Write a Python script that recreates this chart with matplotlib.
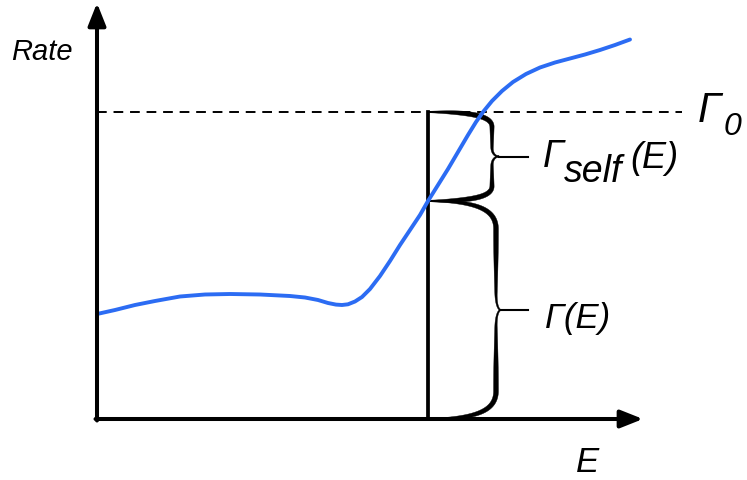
import numpy as np
import matplotlib
matplotlib.use("Agg")
import matplotlib.pyplot as plt

# schematic drawn in pixel space (y grows downwards)
curve_x = [97, 115, 135, 155, 180, 205, 230, 260, 290, 305, 318, 328, 336,
           342, 348, 355, 362, 370, 380, 390, 400, 410, 420, 428, 438, 448,
           458, 468, 476, 483, 492, 502, 513, 526, 540, 555, 570, 585, 600,
           615, 630]
curve_y = [315, 311, 306, 302, 297.5, 295.5, 295, 295.5, 297, 298.5, 301, 304,
           305.6, 306, 305.3, 302.5, 298, 290, 277, 262, 246, 231, 216, 202,
           186, 170, 153, 136, 123, 113, 102, 92, 83, 75, 68.5, 63.5, 59.5,
           55.5, 51, 46, 40.5]

gamma0_y = 113
cross_y = 202
axis_y = 420
axis_x = 97
e_x = 428

rate_label = "Rate"
e_label = "E"
gamma = "\u0393"

plt.rcParams["font.family"] = ["Liberation Sans", "DejaVu Sans"]

fig = plt.figure(figsize=(7.47, 4.81), dpi=100)
ax = fig.add_axes([0, 0, 1, 1])
ax.set_xlim(0, 747)
ax.set_ylim(481, 0)
ax.axis("off")


def bez(p0, p1, p2, p3, n=60):
    t = np.linspace(0, 1, n)[:, None]
    p0, p1, p2, p3 = map(np.asarray, (p0, p1, p2, p3))
    return ((1 - t) ** 3 * p0 + 3 * (1 - t) ** 2 * t * p1
            + 3 * (1 - t) * t ** 2 * p2 + t ** 3 * p3)


def stroke(pts, wmin, wmax):
    # variable width stroke, thin at both ends
    d = np.gradient(pts, axis=0)
    d /= np.hypot(d[:, 0], d[:, 1])[:, None]
    nrm = np.column_stack([-d[:, 1], d[:, 0]])
    seg = np.hypot(*np.diff(pts, axis=0).T)
    s = np.concatenate([[0], np.cumsum(seg)]) / seg.sum()
    w = wmin + (wmax - wmin) * np.sin(np.pi * s) ** 1.2
    left = pts + nrm * w[:, None] / 2
    right = pts - nrm * w[:, None] / 2
    poly = np.vstack([left, right[::-1]])
    ax.fill(poly[:, 0], poly[:, 1], color="black", lw=0.3)


def brace(y0, y1, xl, xb, xt, xend, a, c):
    ym = (y0 + y1) / 2
    for sgn, ys in ((1, y0), (-1, y1)):
        arm = bez((xl, ys), (xl + 0.72 * (xb - xl), ys),
                  (xb, ys + sgn * 0.3 * a), (xb, ys + sgn * a))
        mid = np.column_stack([np.full(20, xb),
                               np.linspace(ys + sgn * a, ym - sgn * c, 20)])
        cusp = bez((xb, ym - sgn * c), (xb, ym - sgn * 0.35 * c),
                   (xt - 0.55 * (xt - xb), ym), (xt, ym))
        pts = np.vstack([arm, mid[1:], cusp[1:]])
        stroke(pts, 1.4, 4.8)
    ax.plot([xt, xend], [ym, ym], color="black", lw=1.5)


arrow = dict(arrowstyle="-|>,head_length=0.68,head_width=0.27",
             lw=2.9, color="black", shrinkA=0, shrinkB=0, mutation_scale=20)
ax.annotate("", xy=(axis_x, 4), xytext=(axis_x, axis_y + 1.5), arrowprops=arrow)
ax.annotate("", xy=(643, axis_y), xytext=(axis_x - 1.5, axis_y), arrowprops=arrow)

ax.plot([axis_x, 682], [gamma0_y, gamma0_y], color="black", lw=1.4,
        dashes=(5, 3.5))
ax.plot([e_x, e_x], [gamma0_y, axis_y], color="black", lw=2.7)

ax.plot(curve_x, curve_y, color="#2c6cf3", lw=2.8, solid_capstyle="round",
        solid_joinstyle="round")

brace(gamma0_y, cross_y, e_x, 492, 499, 528, 15, 9)
brace(cross_y, axis_y, e_x, 496, 501, 528, 28, 17)

it = dict(style="italic", va="baseline", color="black")
ax.text(11, 60, rate_label, fontsize=21, **it)
ax.text(576, 479, e_label, fontsize=25, style="italic", va="bottom")
ax.text(698, 122, gamma, fontsize=30, **it)
ax.text(724, 135, "0", fontsize=23, **it)
ax.text(543, 167, gamma, fontsize=27, **it)
ax.text(564, 182, "self", fontsize=27, **it)
ax.text(630, 168, "(E)", fontsize=26, **it)
ax.text(545, 328, gamma + "(E)", fontsize=25, **it)

fig.savefig("out.png", dpi=100)
plt.close(fig)
